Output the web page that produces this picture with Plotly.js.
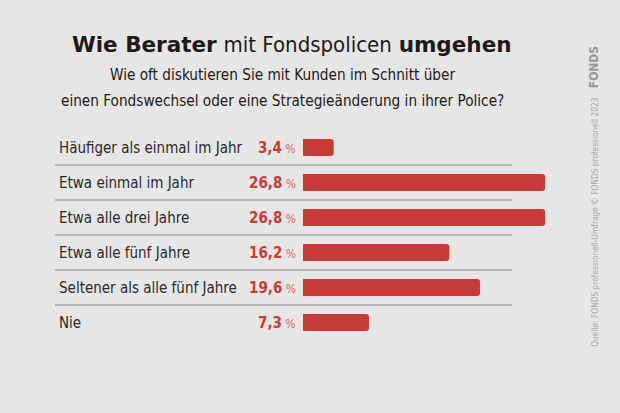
<!DOCTYPE html>
<html><head><meta charset="utf-8">
<script src="https://cdn.plot.ly/plotly-3.0.1.min.js"></script>
<style>html,body{margin:0;padding:0;background:#e6e6e6;}</style>
</head><body>
<div id="chart" style="width:620px;height:413px;"></div>
<script>
const categories = ["Häufiger als einmal im Jahr","Etwa einmal im Jahr","Etwa alle drei Jahre","Etwa alle fünf Jahre","Seltener als alle fünf Jahre","Nie"];
const values = [3.4, 26.8, 26.8, 16.2, 19.6, 7.3];
const valueLabels = ["3,4","26,8","26,8","16,2","19,6","7,3"];

const NARROW = "'DejaVu Sans Condensed', 'Liberation Sans Narrow', sans-serif";
const RED = "#c93b37";

const annotations = [];
categories.forEach((c,i)=>{
  annotations.push({xref:'paper', yref:'y', x:-0.906, y:c, xanchor:'left', yanchor:'middle', showarrow:false,
    text:c, font:{family:NARROW, size:15, color:'#2a2a2a'}});
  annotations.push({xref:'paper', yref:'y', x:-0.02, y:c, xanchor:'right', yanchor:'middle', showarrow:false,
    text:'<b>'+valueLabels[i]+'</b><span style="font-size:12px;color:#d46a66"> %</span>', font:{family:NARROW, size:15, color:RED}});
});
// title
annotations.push({xref:'paper', yref:'paper', x:-0.04, y:1.407, xanchor:'center', yanchor:'middle', showarrow:false,
  text:"<b>Wie Berater</b> <span style=\"font-family:DejaVu Sans Condensed;font-weight:normal;font-size:22px\">mit Fondspolicen</span> <b>umgehen</b>",
  font:{family:"'DejaVu Sans', sans-serif", size:21.5, color:'#1e1a17'}});
annotations.push({xref:'paper', yref:'paper', x:-0.074, y:1.262, xanchor:'center', yanchor:'middle', showarrow:false,
  text:"Wie oft diskutieren Sie mit Kunden im Schnitt über", font:{family:NARROW, size:15.2, color:'#1e1a17'}});
annotations.push({xref:'paper', yref:'paper', x:-0.074, y:1.14, xanchor:'center', yanchor:'middle', showarrow:false,
  text:"einen Fondswechsel oder eine Strategieänderung in ihrer Police?", font:{family:NARROW, size:15.2, color:'#1e1a17'}});
// side source text
annotations.push({xref:'paper', yref:'paper', x:1.075, y:1.169, xanchor:'center', yanchor:'top', showarrow:false, textangle:-90,
  text:"Quelle: FONDS professionell-Umfrage © FONDS professionell 2023", font:{family:NARROW, size:8.3, color:'#a9a9a9'}});
annotations.push({xref:'paper', yref:'paper', x:1.075, y:1.41, xanchor:'center', yanchor:'top', showarrow:false, textangle:-90,
  text:"<b>FONDS</b>", font:{family:NARROW, size:12, color:'#9a9a9a'}});

const shapes = [];
for (let i=0;i<5;i++){
  shapes.push({type:'line', xref:'paper', yref:'y', x0:-0.915, x1:0.771, y0:i+0.5, y1:i+0.5,
    line:{color:'#858585', width:1}});
}

const trace = {type:'bar', orientation:'h', y:categories, x:values,
  marker:{color:RED, cornerradius:3, line:{width:0}}, width:0.49, hoverinfo:'none'};

const layout = {
  width:620, height:413,
  paper_bgcolor:'#e6e6e6', plot_bgcolor:'#e6e6e6',
  margin:{l:303, r:46, t:130, b:72.5},
  xaxis:{range:[0,30], visible:false, fixedrange:true},
  yaxis:{type:'category', autorange:false, range:[5.5,-0.5], visible:false, fixedrange:true},
  showlegend:false,
  annotations:annotations, shapes:shapes
};
Plotly.newPlot('chart',[trace],layout,{displayModeBar:false, staticPlot:true});
</script>
</body></html>
